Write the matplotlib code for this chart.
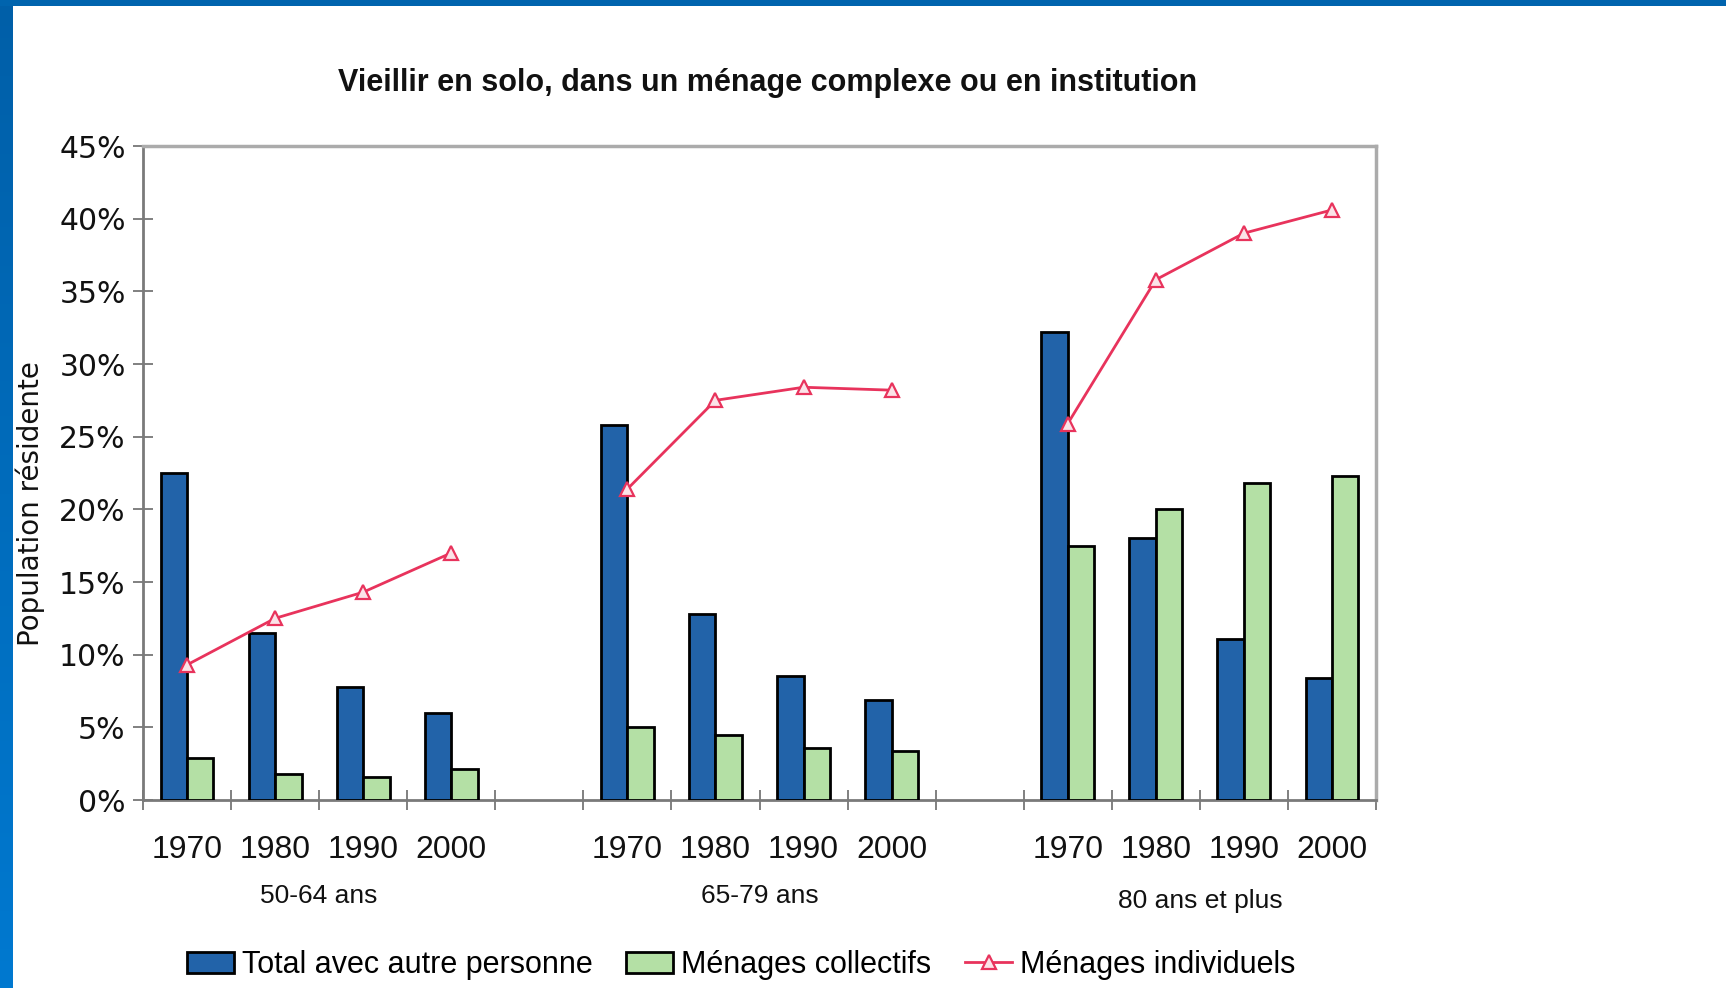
import numpy as np
import matplotlib
matplotlib.use("Agg")
import matplotlib.pyplot as plt
from matplotlib.patches import Rectangle, Patch
from matplotlib.lines import Line2D
from matplotlib.colors import LinearSegmentedColormap
import matplotlib.transforms as mtransforms

# ---------------- data ----------------
groups = ["50-64 ans", "65-79 ans", "80 ans et plus"]
years = ["1970", "1980", "1990", "2000"]
total_autre = [22.5, 11.5, 7.8, 6.0,
               25.8, 12.8, 8.5, 6.9,
               32.2, 18.0, 11.1, 8.4]
menages_collectifs = [2.9, 1.8, 1.6, 2.1,
                      5.0, 4.5, 3.6, 3.4,
                      17.5, 20.0, 21.8, 22.3]
menages_individuels = [9.3, 12.5, 14.3, 17.0,
                       21.4, 27.5, 28.4, 28.2,
                       25.9, 35.8, 39.0, 40.6]
y_ticks = [0, 5, 10, 15, 20, 25, 30, 35, 40, 45]
y_tick_labels = ["0%", "5%", "10%", "15%", "20%", "25%", "30%", "35%", "40%", "45%"]
series_names = ["Total avec autre personne", "Ménages collectifs", "Ménages individuels"]
title = "Vieillir en solo, dans un ménage complexe ou en institution"
ylabel = "Population résidente"

# ---------------- style ----------------
W, H = 1726, 988
fig = plt.figure(figsize=(W / 100, H / 100), dpi=100)
fig.patch.set_facecolor("white")

BLUE = "#2263A9"
GREEN = "#B4E0A5"
RED = "#E8335C"
SANS = "Liberation Sans"
WIDE = "DejaVu Sans"
EDGE_LW = 2.0

# frame decoration (slide border)
band = fig.add_axes([0, 0, 12 / W, 1])
grad = np.linspace(0, 1, 256).reshape(-1, 1)
cmap = LinearSegmentedColormap.from_list("b", ["#0079D0", "#005FA8"])
band.imshow(grad, aspect="auto", cmap=cmap, origin="lower", extent=[0, 1, 0, 1])
band.set_axis_off()
fig.patches.append(Rectangle((0, 1 - 6 / H), 1, 6 / H, transform=fig.transFigure,
                             facecolor="#0064AE", edgecolor="none", zorder=5))

# main axes
L, R, T, B = 143, 1376, 146, 800
ax = fig.add_axes([L / W, 1 - B / H, (R - L) / W, (B - T) / H])

positions = []
for g in range(len(groups)):
    for i in range(len(years)):
        positions.append(g * (len(years) + 1) + i)
positions = np.array(positions, dtype=float)

bw = 0.3
ax.bar(positions - bw / 2, total_autre, width=bw, color=BLUE, edgecolor="black",
       linewidth=EDGE_LW, zorder=3, label=series_names[0])
ax.bar(positions + bw / 2, menages_collectifs, width=bw, color=GREEN, edgecolor="black",
       linewidth=EDGE_LW, zorder=3, label=series_names[1])
for g in range(len(groups)):
    sl = slice(g * 4, g * 4 + 4)
    ax.plot(positions[sl], menages_individuels[sl], color=RED, lw=2.0, marker="^",
            markersize=10, markerfacecolor="#FBE3E8", markeredgecolor=RED,
            markeredgewidth=1.6, zorder=4)

nslots = len(groups) * (len(years) + 1) - 1
ax.set_xlim(-0.5, nslots - 0.5)
ax.set_ylim(0, 45)

ax.set_xticks(positions)
ax.set_xticklabels(years * len(groups), fontfamily=SANS, fontsize=23, color="#111111")
ax.set_xticks(np.arange(-0.5, nslots, 1.0), minor=True)
ax.tick_params(axis="x", which="major", length=0, pad=25)
ax.tick_params(axis="x", which="minor", length=15, width=1.4, direction="inout", color="#808080")

ax.set_yticks(y_ticks)
ax.set_yticklabels(y_tick_labels, fontfamily=WIDE, fontsize=21.5, color="#111111")
ax.tick_params(axis="y", length=15, width=1.4, direction="inout", color="#808080", pad=5)

for s in ["top", "right"]:
    ax.spines[s].set_color("#ABABAB")
    ax.spines[s].set_linewidth(2.5)
for s in ["left", "bottom"]:
    ax.spines[s].set_color("#7A7A7A")
    ax.spines[s].set_linewidth(2.0)

# group labels
trans = mtransforms.blended_transform_factory(ax.transData, fig.transFigure)
group_y = [896, 896, 901]
for g, name in enumerate(groups):
    cx = positions[g * 4:(g + 1) * 4].mean()
    ax.text(cx, 1 - group_y[g] / H, name, transform=trans, ha="center", va="center",
            fontfamily=SANS, fontsize=19, color="#111111")

# title and y label
fig.text(768 / W, 1 - 83 / H, title, ha="center", va="center", fontfamily=SANS,
         fontweight="bold", fontsize=22, color="#111111")
fig.text(30 / W, 1 - 504 / H, ylabel, rotation=90, ha="center", va="center",
         fontfamily=WIDE, fontsize=20, color="#111111")

# legend
handles = [Patch(facecolor=BLUE, edgecolor="black", linewidth=EDGE_LW),
           Patch(facecolor=GREEN, edgecolor="black", linewidth=EDGE_LW),
           Line2D([0], [0], color=RED, lw=2.0, marker="^", markersize=10,
                  markerfacecolor="#FBE3E8", markeredgecolor=RED, markeredgewidth=1.6)]
fig.legend(handles, series_names, loc="center", bbox_to_anchor=(741 / W, 1 - 965 / H),
           ncol=3, frameon=False, prop={"family": SANS, "size": 22},
           handlelength=1.55, handleheight=0.7, handletextpad=0.25, columnspacing=1.1,
           borderpad=0)

fig.savefig("out.png", dpi=100, facecolor="white")
